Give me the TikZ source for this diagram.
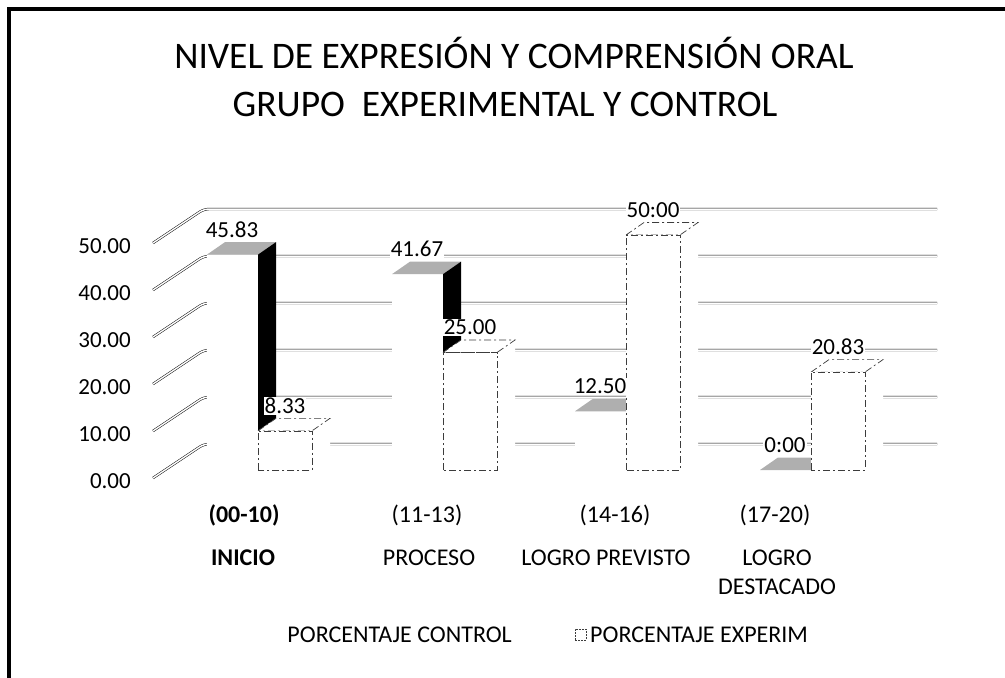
\documentclass[tikz,border=0pt]{standalone}
\usepackage{fontspec}
\setmainfont{Carlito}
\definecolor{TopGray}{RGB}{175,175,175}
\definecolor{ExpLine}{RGB}{60,60,60}

\begin{document}
\begin{tikzpicture}[x=1pt, y=-1pt,
  gridline/.style={draw=black, line width=0.45pt, double=white, double distance=1.5pt, rounded corners=5pt},
  expline/.style={fill=white, draw=ExpLine, line width=0.7pt, dash pattern=on 7pt off 3pt on 2pt off 3pt},
  datalbl/.style={fill=white, inner sep=1pt, font=\fontsize{23}{26}\selectfont},
  axislbl/.style={anchor=east, inner sep=0pt, font=\fontsize{23}{26}\selectfont},
  catlbl/.style={anchor=base, inner sep=0pt, align=center, font=\fontsize{24}{28}\selectfont},
  titlelbl/.style={anchor=base, inner sep=0pt, font=\fontsize{37.5}{42}\selectfont}]
\pgfmathsetmacro{\yb}{470} % base line of the bars
\pgfmathsetmacro{\ys}{4.7} % pixels per percent
\pgfmathsetmacro{\dx}{18} % depth of a bar, x
\pgfmathsetmacro{\dy}{12.5} % depth of a bar, y
\pgfmathsetmacro{\bw}{51} % width of a control bar
\pgfmathsetmacro{\ew}{54} % width of an experimental bar

\useasboundingbox (0,0) rectangle (1005,678);

\draw[line width=4pt] (9,678) -- (9,9) -- (1005,9); % frame

% title
\node[titlelbl] (title1) at (514,68) {NIVEL DE EXPRESIÓN Y COMPRENSIÓN ORAL};
\node[titlelbl] (title2) at (505,116) {GRUPO~ EXPERIMENTAL Y CONTROL};

% grid lines and value axis
\foreach \v in {0,10,...,50}{
  \draw[gridline] (153,478-\v*\ys) -- (204,444-\v*\ys) -- (937,444-\v*\ys);
  \node[axislbl] (ax\v) at (131,481-\v*\ys) {\v.00};
}

% bars: control (dark side) and experimental (dashed)
\foreach \xc/\vc/\ve/\nm in {207/45.83/8.33/ini, 392/41.67/25.00/pro, 575/12.50/50.00/pre, 760/0.00/20.83/des}{
  \pgfmathsetmacro{\tc}{\yb-\vc*\ys} % top of control bar
  \pgfmathsetmacro{\te}{\yb-\ve*\ys} % top of experimental bar
  \pgfmathsetmacro{\xe}{\xc+\bw} % left of experimental bar
  \fill[white] (\xc,\yb) rectangle (\xc+\bw,\tc); % control front
  \fill[TopGray] (\xc,\tc) -- ++(\dx,-\dy) -- ++(\bw,0) -- ++(-\dx,\dy) -- cycle; % control top
  \fill[black] (\xc+\bw,\tc) -- ++(\dx,-\dy) -- (\xc+\bw+\dx,\yb-\dy) -- (\xc+\bw,\yb) -- cycle; % control side
  \fill[white] (\xe+\ew,\te) -- ++(\dx,-\dy) -- (\xe+\ew+\dx,\yb-\dy) -- (\xe+\ew,\yb) -- cycle; % experimental side
  \filldraw[expline] (\xe,\te) -- ++(\dx,-\dy) -- ++(\ew,0) -- ++(-\dx,\dy) -- cycle; % experimental top
  \filldraw[expline] (\xe,\yb) rectangle (\xe+\ew,\te); % experimental front
}

% data labels
\foreach \xc/\vc/\ve/\tc/\te/\nm in {207/45.83/8.33/45.83/8.33/ini, 392/41.67/25.00/41.67/25.00/pro, 575/12.50/50.00/12.50/50:00/pre, 760/0.00/20.83/0:00/20.83/des}{
  \node[datalbl] (c\nm) at (\xc+25,\yb-\vc*\ys-25) {\tc};
  \node[datalbl] (e\nm) at (\xc+\bw+27,\yb-\ve*\ys-25) {\te};
}

% categories
\node[catlbl, font=\fontsize{24}{28}\selectfont\bfseries] (rng1) at (244,522) {(00-10)};
\node[catlbl] (rng2) at (427,522) {(11-13)};
\node[catlbl] (rng3) at (615,522) {(14-16)};
\node[catlbl] (rng4) at (775,522) {(17-20)};
\node[catlbl, font=\fontsize{24}{28}\selectfont\bfseries] (cat1) at (243,565) {INICIO};
\node[catlbl] (cat2) at (429,565) {PROCESO};
\node[catlbl] (cat3) at (606,565) {LOGRO PREVISTO};
\node[catlbl] (cat4) at (777,594) {LOGRO\\[1pt]DESTACADO};

% legend
\node[catlbl, anchor=base east] (legctl) at (512,642) {PORCENTAJE CONTROL};
\node[draw=ExpLine, dash pattern=on 2pt off 1pt, line width=0.7pt, minimum size=11pt, inner sep=0pt] (legbox) at (580.5,634.5) {};
\node[catlbl, anchor=base west] (legexp) at (590,642) {PORCENTAJE EXPERIM};

\end{tikzpicture}
\end{document}
